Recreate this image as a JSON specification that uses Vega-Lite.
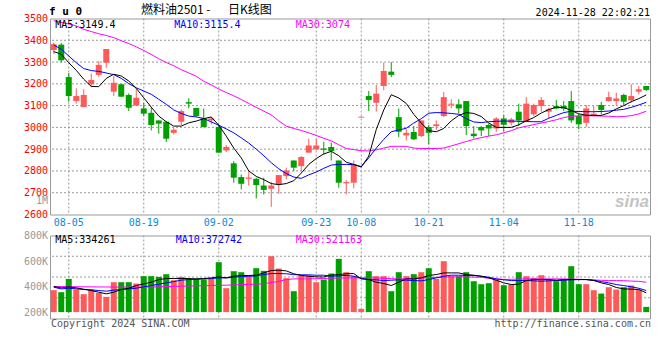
{
"$schema": "https://vega.github.io/schema/vega-lite/v6.json",
"padding": {"left": 0, "top": 3.5, "right": 5, "bottom": 5},
"background": "#ffffff",
"spacing": 21,
"bounds": "flush",
"config": {
  "view": {"stroke": "#999999", "strokeWidth": 1},
  "axis": {"domain": false, "ticks": false, "grid": false, "labelFont": "DejaVu Sans Mono", "labelFontSize": 10, "labelOverlap": false},
  "text": {"font": "DejaVu Sans Mono", "fontSize": 10},
  "line": {"strokeWidth": 1}
},
"datasets": {"k": [
{"date":"2024-08-01","open":3355,"high":3389,"low":3337,"close":3382,"ma5":3348,"ma10":3378,"ma30":3490,"vol":371700,"vma5":400300,"vma10":395000,"vma30":400000},
{"date":"2024-08-02","open":3380,"high":3388,"low":3297,"close":3308,"ma5":3336,"ma10":3359,"ma30":3482,"vol":356000,"vma5":390000,"vma10":382000,"vma30":400000},
{"date":"2024-08-05","open":3231,"high":3250,"low":3118,"close":3144,"ma5":3297,"ma10":3328,"ma30":3475,"vol":460400,"vma5":398000,"vma10":387000,"vma30":399000},
{"date":"2024-08-06","open":3121,"high":3179,"low":3109,"close":3144,"ma5":3262,"ma10":3297,"ma30":3466,"vol":377000,"vma5":390000,"vma10":382000,"vma30":399000},
{"date":"2024-08-07","open":3093,"high":3175,"low":3093,"close":3149,"ma5":3221,"ma10":3270,"ma30":3450,"vol":340400,"vma5":379500,"vma10":377000,"vma30":398000},
{"date":"2024-08-08","open":3198,"high":3247,"low":3185,"close":3218,"ma5":3188,"ma10":3261,"ma30":3440,"vol":377000,"vma5":369000,"vma10":374000,"vma30":398000},
{"date":"2024-08-09","open":3241,"high":3305,"low":3233,"close":3287,"ma5":3187,"ma10":3257,"ma30":3430,"vol":351000,"vma5":356000,"vma10":369000,"vma30":397000},
{"date":"2024-08-12","open":3297,"high":3360,"low":3274,"close":3360,"ma5":3225,"ma10":3250,"ma30":3422,"vol":319500,"vma5":343000,"vma10":364000,"vma30":397000},
{"date":"2024-08-13","open":3164,"high":3236,"low":3144,"close":3205,"ma5":3244,"ma10":3242,"ma30":3412,"vol":434300,"vma5":356000,"vma10":372000,"vma30":396000},
{"date":"2024-08-14","open":3198,"high":3201,"low":3139,"close":3141,"ma5":3236,"ma10":3225,"ma30":3398,"vol":434300,"vma5":377000,"vma10":377000,"vma30":396000},
{"date":"2024-08-15","open":3149,"high":3156,"low":3075,"close":3090,"ma5":3213,"ma10":3201,"ma30":3385,"vol":434300,"vma5":387000,"vma10":382000,"vma30":396000},
{"date":"2024-08-16","open":3100,"high":3178,"low":3100,"close":3136,"ma5":3179,"ma10":3182,"ma30":3370,"vol":423900,"vma5":408000,"vma10":387000,"vma30":396000},
{"date":"2024-08-19","open":3087,"high":3113,"low":3052,"close":3063,"ma5":3136,"ma10":3167,"ma30":3353,"vol":481300,"vma5":421000,"vma10":398000,"vma30":396000},
{"date":"2024-08-20","open":3067,"high":3093,"low":2986,"close":3011,"ma5":3093,"ma10":3152,"ma30":3335,"vol":481300,"vma5":434000,"vma10":408000,"vma30":397000},
{"date":"2024-08-21","open":3032,"high":3032,"low":2971,"close":3017,"ma5":3052,"ma10":3129,"ma30":3315,"vol":476000,"vma5":455000,"vma10":419000,"vma30":398000},
{"date":"2024-08-22","open":3026,"high":3026,"low":2933,"close":2948,"ma5":3026,"ma10":3106,"ma30":3298,"vol":497000,"vma5":463000,"vma10":429000,"vma30":400000},
{"date":"2024-08-23","open":2975,"high":2998,"low":2968,"close":2989,"ma5":3006,"ma10":3080,"ma30":3283,"vol":450000,"vma5":463000,"vma10":439000,"vma30":401000},
{"date":"2024-08-26","open":3026,"high":3083,"low":3011,"close":3075,"ma5":3006,"ma10":3064,"ma30":3265,"vol":476000,"vma5":463000,"vma10":450000,"vma30":403000},
{"date":"2024-08-27","open":3116,"high":3133,"low":3087,"close":3109,"ma5":3021,"ma10":3052,"ma30":3250,"vol":460400,"vma5":463000,"vma10":455000,"vma30":404000},
{"date":"2024-08-28","open":3089,"high":3089,"low":3048,"close":3052,"ma5":3029,"ma10":3048,"ma30":3235,"vol":460400,"vma5":460000,"vma10":458000,"vma30":406000},
{"date":"2024-08-29","open":3041,"high":3087,"low":3000,"close":3002,"ma5":3040,"ma10":3041,"ma30":3212,"vol":455200,"vma5":463000,"vma10":460000,"vma30":407000},
{"date":"2024-08-30","open":3032,"high":3047,"low":3014,"close":3041,"ma5":3048,"ma10":3025,"ma30":3195,"vol":460400,"vma5":468000,"vma10":463000,"vma30":409000},
{"date":"2024-09-02","open":3002,"high":3011,"low":2884,"close":2884,"ma5":3010,"ma10":3010,"ma30":3176,"vol":590900,"vma5":476000,"vma10":468000,"vma30":410000},
{"date":"2024-09-03","open":2894,"high":2919,"low":2887,"close":2910,"ma5":2960,"ma10":2993,"ma30":3160,"vol":387300,"vma5":468000,"vma10":468000,"vma30":411000},
{"date":"2024-09-04","open":2835,"high":2845,"low":2746,"close":2769,"ma5":2905,"ma10":2975,"ma30":3145,"vol":520400,"vma5":481000,"vma10":473000,"vma30":413000},
{"date":"2024-09-05","open":2772,"high":2784,"low":2715,"close":2741,"ma5":2860,"ma10":2952,"ma30":3128,"vol":512600,"vma5":487000,"vma10":479000,"vma30":415000},
{"date":"2024-09-06","open":2764,"high":2799,"low":2733,"close":2770,"ma5":2800,"ma10":2928,"ma30":3110,"vol":481300,"vma5":487000,"vma10":481000,"vma30":417000},
{"date":"2024-09-09","open":2764,"high":2769,"low":2674,"close":2735,"ma5":2775,"ma10":2900,"ma30":3092,"vol":543900,"vma5":489000,"vma10":484000,"vma30":419000},
{"date":"2024-09-10","open":2733,"high":2769,"low":2692,"close":2713,"ma5":2760,"ma10":2870,"ma30":3075,"vol":523000,"vma5":507000,"vma10":494000,"vma30":422000},
{"date":"2024-09-11","open":2718,"high":2750,"low":2635,"close":2733,"ma5":2742,"ma10":2838,"ma30":3057,"vol":637900,"vma5":526000,"vma10":502000,"vma30":432000},
{"date":"2024-09-12","open":2738,"high":2781,"low":2695,"close":2781,"ma5":2737,"ma10":2810,"ma30":3030,"vol":541300,"vma5":528000,"vma10":502000,"vma30":440000},
{"date":"2024-09-13","open":2776,"high":2815,"low":2761,"close":2802,"ma5":2742,"ma10":2788,"ma30":3006,"vol":465600,"vma5":523000,"vma10":500000,"vma30":455000},
{"date":"2024-09-18","open":2848,"high":2848,"low":2799,"close":2815,"ma5":2755,"ma10":2772,"ma30":2995,"vol":363800,"vma5":500000,"vma10":494000,"vma30":460000},
{"date":"2024-09-19","open":2822,"high":2868,"low":2799,"close":2864,"ma5":2790,"ma10":2766,"ma30":2986,"vol":486500,"vma5":487000,"vma10":492000,"vma30":460000},
{"date":"2024-09-20","open":2884,"high":2948,"low":2884,"close":2917,"ma5":2830,"ma10":2782,"ma30":2975,"vol":486500,"vma5":481000,"vma10":492000,"vma30":460000},
{"date":"2024-09-23","open":2899,"high":2948,"low":2896,"close":2917,"ma5":2857,"ma10":2795,"ma30":2963,"vol":434300,"vma5":476000,"vma10":489000,"vma30":462000},
{"date":"2024-09-24","open":2903,"high":2934,"low":2876,"close":2897,"ma5":2878,"ma10":2812,"ma30":2950,"vol":455200,"vma5":475000,"vma10":489000,"vma30":463000},
{"date":"2024-09-25","open":2910,"high":2930,"low":2848,"close":2891,"ma5":2890,"ma10":2827,"ma30":2938,"vol":502100,"vma5":490000,"vma10":481000,"vma30":466000},
{"date":"2024-09-26","open":2848,"high":2848,"low":2723,"close":2746,"ma5":2870,"ma10":2830,"ma30":2920,"vol":617000,"vma5":494000,"vma10":484000,"vma30":467000},
{"date":"2024-09-27","open":2743,"high":2758,"low":2692,"close":2749,"ma5":2840,"ma10":2830,"ma30":2903,"vol":512600,"vma5":500000,"vma10":487000,"vma30":467000},
{"date":"2024-09-30","open":2746,"high":2848,"low":2720,"close":2830,"ma5":2830,"ma10":2829,"ma30":2898,"vol":481300,"vma5":502000,"vma10":481000,"vma30":468000},
{"date":"2024-10-08","open":3045,"high":3049,"low":3045,"close":3049,"ma5":2818,"ma10":2820,"ma30":2893,"vol":225500,"vma5":460000,"vma10":466000,"vma30":468000},
{"date":"2024-10-09","open":3144,"high":3167,"low":3075,"close":3126,"ma5":2868,"ma10":2860,"ma30":2892,"vol":520400,"vma5":455000,"vma10":455000,"vma30":468000},
{"date":"2024-10-10","open":3113,"high":3195,"low":3072,"close":3155,"ma5":2990,"ma10":2905,"ma30":2897,"vol":481300,"vma5":434000,"vma10":453000,"vma30":467000},
{"date":"2024-10-11","open":3190,"high":3297,"low":3170,"close":3259,"ma5":3080,"ma10":2945,"ma30":2905,"vol":481300,"vma5":424000,"vma10":447000,"vma30":465000},
{"date":"2024-10-14","open":3256,"high":3300,"low":3231,"close":3241,"ma5":3150,"ma10":2980,"ma30":2913,"vol":363800,"vma5":408000,"vma10":450000,"vma30":462000},
{"date":"2024-10-15","open":3047,"high":3087,"low":2956,"close":2980,"ma5":3135,"ma10":2988,"ma30":2913,"vol":512600,"vma5":434000,"vma10":453000,"vma30":460000},
{"date":"2024-10-16","open":2963,"high":2991,"low":2940,"close":2975,"ma5":3110,"ma10":2996,"ma30":2913,"vol":481300,"vma5":460000,"vma10":450000,"vma30":462000},
{"date":"2024-10-17","open":2979,"high":3006,"low":2942,"close":2945,"ma5":3060,"ma10":3020,"ma30":2905,"vol":497000,"vma5":460000,"vma10":447000,"vma30":465000},
{"date":"2024-10-18","open":2960,"high":3032,"low":2956,"close":3032,"ma5":3020,"ma10":3040,"ma30":2903,"vol":512600,"vma5":468000,"vma10":445000,"vma30":468000},
{"date":"2024-10-21","open":3002,"high":3011,"low":2922,"close":2975,"ma5":2985,"ma10":3065,"ma30":2903,"vol":543900,"vma5":487000,"vma10":455000,"vma30":470000},
{"date":"2024-10-22","open":3006,"high":3032,"low":2988,"close":3014,"ma5":2980,"ma10":3068,"ma30":2903,"vol":460400,"vma5":494000,"vma10":468000,"vma30":472000},
{"date":"2024-10-23","open":3052,"high":3162,"low":3047,"close":3139,"ma5":2995,"ma10":3067,"ma30":2905,"vol":598700,"vma5":507000,"vma10":481000,"vma30":474000},
{"date":"2024-10-24","open":3104,"high":3129,"low":3087,"close":3109,"ma5":3030,"ma10":3064,"ma30":2915,"vol":481300,"vma5":507000,"vma10":489000,"vma30":476000},
{"date":"2024-10-25","open":3106,"high":3129,"low":3063,"close":3087,"ma5":3055,"ma10":3060,"ma30":2925,"vol":481300,"vma5":507000,"vma10":489000,"vma30":476000},
{"date":"2024-10-28","open":3121,"high":3121,"low":2965,"close":3006,"ma5":3068,"ma10":3040,"ma30":2935,"vol":512600,"vma5":494000,"vma10":487000,"vma30":475000},
{"date":"2024-10-29","open":2971,"high":3006,"low":2949,"close":2960,"ma5":3064,"ma10":3025,"ma30":2945,"vol":442100,"vma5":489000,"vma10":487000,"vma30":474000},
{"date":"2024-10-30","open":3002,"high":3006,"low":2960,"close":2986,"ma5":3050,"ma10":3022,"ma30":2953,"vol":418600,"vma5":481000,"vma10":481000,"vma30":473000},
{"date":"2024-10-31","open":3011,"high":3017,"low":2960,"close":2995,"ma5":3020,"ma10":3026,"ma30":2960,"vol":426500,"vma5":468000,"vma10":473000,"vma30":465000},
{"date":"2024-11-01","open":2995,"high":3047,"low":2980,"close":3041,"ma5":3000,"ma10":3028,"ma30":2966,"vol":455200,"vma5":450000,"vma10":460000,"vma30":460000},
{"date":"2024-11-04","open":3041,"high":3058,"low":2982,"close":3012,"ma5":3000,"ma10":3029,"ma30":2975,"vol":410800,"vma5":429000,"vma10":453000,"vma30":456000},
{"date":"2024-11-05","open":3021,"high":3044,"low":3009,"close":3037,"ma5":3000,"ma10":3029,"ma30":2985,"vol":416000,"vma5":416000,"vma10":447000,"vma30":457000},
{"date":"2024-11-06","open":3072,"high":3109,"low":3006,"close":3032,"ma5":3012,"ma10":3028,"ma30":2998,"vol":512600,"vma5":419000,"vma10":447000,"vma30":459000},
{"date":"2024-11-07","open":3029,"high":3139,"low":3026,"close":3109,"ma5":3030,"ma10":3027,"ma30":3005,"vol":481300,"vma5":447000,"vma10":447000,"vma30":460000},
{"date":"2024-11-08","open":3060,"high":3109,"low":3052,"close":3103,"ma5":3045,"ma10":3026,"ma30":3013,"vol":468200,"vma5":455000,"vma10":445000,"vma30":460000},
{"date":"2024-11-11","open":3098,"high":3139,"low":3072,"close":3126,"ma5":3066,"ma10":3026,"ma30":3020,"vol":489100,"vma5":455000,"vma10":442000,"vma30":460000},
{"date":"2024-11-12","open":3072,"high":3090,"low":3041,"close":3083,"ma5":3082,"ma10":3042,"ma30":3027,"vol":455200,"vma5":455000,"vma10":445000,"vma30":460000},
{"date":"2024-11-13","open":3098,"high":3126,"low":3083,"close":3087,"ma5":3092,"ma10":3055,"ma30":3035,"vol":442100,"vma5":450000,"vma10":447000,"vma30":460000},
{"date":"2024-11-14","open":3098,"high":3121,"low":3075,"close":3086,"ma5":3091,"ma10":3068,"ma30":3045,"vol":455200,"vma5":455000,"vma10":450000,"vma30":460000},
{"date":"2024-11-15","open":3121,"high":3167,"low":3021,"close":3032,"ma5":3078,"ma10":3074,"ma30":3051,"vol":559500,"vma5":455000,"vma10":453000,"vma30":459000},
{"date":"2024-11-18","open":3052,"high":3063,"low":2991,"close":3014,"ma5":3062,"ma10":3073,"ma30":3053,"vol":418600,"vma5":455000,"vma10":455000,"vma30":457000},
{"date":"2024-11-19","open":3021,"high":3103,"low":3003,"close":3087,"ma5":3056,"ma10":3072,"ma30":3054,"vol":418600,"vma5":455000,"vma10":455000,"vma30":455000},
{"date":"2024-11-20","open":3057,"high":3098,"low":3052,"close":3063,"ma5":3055,"ma10":3072,"ma30":3053,"vol":371700,"vma5":447000,"vma10":450000,"vma30":452000},
{"date":"2024-11-21","open":3103,"high":3118,"low":3060,"close":3080,"ma5":3055,"ma10":3073,"ma30":3052,"vol":345500,"vma5":429000,"vma10":439000,"vma30":449000},
{"date":"2024-11-22","open":3121,"high":3164,"low":3118,"close":3139,"ma5":3066,"ma10":3075,"ma30":3051,"vol":395100,"vma5":416000,"vma10":429000,"vma30":447000},
{"date":"2024-11-25","open":3121,"high":3159,"low":3103,"close":3133,"ma5":3085,"ma10":3079,"ma30":3049,"vol":377000,"vma5":393000,"vma10":416000,"vma30":447000},
{"date":"2024-11-26","open":3149,"high":3155,"low":3103,"close":3118,"ma5":3100,"ma10":3083,"ma30":3050,"vol":395100,"vma5":382000,"vma10":408000,"vma30":446000},
{"date":"2024-11-27","open":3124,"high":3198,"low":3113,"close":3144,"ma5":3118,"ma10":3092,"ma30":3054,"vol":408200,"vma5":380000,"vma10":398000,"vma30":443000},
{"date":"2024-11-28","open":3164,"high":3190,"low":3152,"close":3175,"ma5":3132,"ma10":3103,"ma30":3062,"vol":377000,"vma5":377000,"vma10":387000,"vma30":441000},
{"date":"2024-11-29","open":3190,"high":3190,"low":3167,"close":3172,"ma5":3149,"ma10":3115,"ma30":3074,"vol":241200,"vma5":351000,"vma10":369000,"vma30":434000}
]},
"data": {"name": "k"},
"vconcat": [
{
  "width": 600,
  "height": 196,
  "layer": [
    {"mark": {"type": "rule", "color": "#999999", "strokeDash": [2, 2], "strokeWidth": 1},
     "encoding": {
       "x": {"field": "date", "type": "ordinal", "sort": null, "scale": {"paddingInner": 0, "paddingOuter": 0}, "axis": null},
       "strokeOpacity": {"condition": {"test": "indexof(['2024-08-05','2024-08-19','2024-09-02','2024-09-23','2024-10-08','2024-10-21','2024-11-04','2024-11-18'], datum.date) >= 0", "value": 1}, "value": 0}}},
    {"data": {"values": [{}]}, "mark": {"type": "rule", "color": "#999999", "strokeDash": [2, 2], "strokeWidth": 1}, "encoding": {"y": {"datum": 2700, "axis": null}}},
    {"data": {"values": [{}]}, "mark": {"type": "rule", "color": "#999999", "strokeDash": [2, 2], "strokeWidth": 1}, "encoding": {"y": {"datum": 2800, "axis": null}}},
    {"data": {"values": [{}]}, "mark": {"type": "rule", "color": "#999999", "strokeDash": [2, 2], "strokeWidth": 1}, "encoding": {"y": {"datum": 2900, "axis": null}}},
    {"data": {"values": [{}]}, "mark": {"type": "rule", "color": "#999999", "strokeDash": [2, 2], "strokeWidth": 1}, "encoding": {"y": {"datum": 3000, "axis": null}}},
    {"data": {"values": [{}]}, "mark": {"type": "rule", "color": "#999999", "strokeDash": [2, 2], "strokeWidth": 1}, "encoding": {"y": {"datum": 3100, "axis": null}}},
    {"data": {"values": [{}]}, "mark": {"type": "rule", "color": "#999999", "strokeDash": [2, 2], "strokeWidth": 1}, "encoding": {"y": {"datum": 3200, "axis": null}}},
    {"data": {"values": [{}]}, "mark": {"type": "rule", "color": "#999999", "strokeDash": [2, 2], "strokeWidth": 1}, "encoding": {"y": {"datum": 3300, "axis": null}}},
    {"data": {"values": [{}]}, "mark": {"type": "rule", "color": "#999999", "strokeDash": [2, 2], "strokeWidth": 1}, "encoding": {"y": {"datum": 3400, "axis": null}}},
    {"mark": {"type": "rule", "strokeWidth": 1},
     "encoding": {
       "x": {"field": "date", "type": "ordinal", "sort": null, "scale": {"paddingInner": 0, "paddingOuter": 0},
         "axis": {"title": null, "values": ["2024-08-05","2024-08-19","2024-09-02","2024-09-23","2024-10-08","2024-10-21","2024-11-04","2024-11-18"], "labelExpr": "slice(datum.value, 5)", "labelColor": "#0a8ad8", "labelPadding": 3, "labelAngle": 0, "labelOverlap": false, "bandPosition": 0.5, "grid": false}},
       "y": {"field": "low", "type": "quantitative", "scale": {"domain": [2600, 3500], "nice": false, "zero": false},
         "axis": {"title": null, "values": [2600,2700,2800,2900,3000,3100,3200,3300,3400,3500], "format": "d", "labelColor": "#ff0000", "labelPadding": 2.5, "labelOverlap": false, "minExtent": 49, "maxExtent": 49, "grid": false}},
       "y2": {"field": "high"},
       "color": {"condition": {"test": "datum.close >= datum.open", "value": "#ff5a5a"}, "value": "#00a000"}}},
    {"mark": {"type": "bar", "size": 6},
     "encoding": {
       "x": {"field": "date", "type": "ordinal", "sort": null, "axis": null},
       "y": {"field": "open", "type": "quantitative", "axis": null},
       "y2": {"field": "close"},
       "color": {"condition": {"test": "datum.close >= datum.open", "value": "#ff5a5a"}, "value": "#00a000"}}},
    {"mark": {"type": "line", "color": "#ff00ff", "strokeWidth": 1}, "encoding": {"x": {"field": "date", "type": "ordinal", "sort": null, "axis": null}, "y": {"field": "ma30", "type": "quantitative", "axis": null}}},
    {"mark": {"type": "line", "color": "#0000ff", "strokeWidth": 1}, "encoding": {"x": {"field": "date", "type": "ordinal", "sort": null, "axis": null}, "y": {"field": "ma10", "type": "quantitative", "axis": null}}},
    {"mark": {"type": "line", "color": "#000000", "strokeWidth": 1}, "encoding": {"x": {"field": "date", "type": "ordinal", "sort": null, "axis": null}, "y": {"field": "ma5", "type": "quantitative", "axis": null}}},
    {"data": {"values": [{}]}, "mark": {"type": "text", "align": "left", "baseline": "middle", "dx": 1.5, "color": "#000000"},
     "encoding": {"x": {"datum": "2024-08-01", "type": "ordinal", "axis": null}, "y": {"datum": 3470, "axis": null}, "text": {"value": "MA5:3149.4"}}},
    {"data": {"values": [{}]}, "mark": {"type": "text", "align": "left", "baseline": "middle", "dx": 0.5, "color": "#0000ff"},
     "encoding": {"x": {"datum": "2024-08-23", "type": "ordinal", "axis": null}, "y": {"datum": 3470, "axis": null}, "text": {"value": "MA10:3115.4"}}},
    {"data": {"values": [{}]}, "mark": {"type": "text", "align": "left", "baseline": "middle", "dx": 2, "color": "#ff00ff"},
     "encoding": {"x": {"datum": "2024-09-18", "type": "ordinal", "axis": null}, "y": {"datum": 3470, "axis": null}, "text": {"value": "MA30:3074"}}},
    {"data": {"values": [{}]}, "mark": {"type": "text", "align": "left", "baseline": "middle", "dx": -4.75, "color": "#000000", "font": "DejaVu Sans Mono", "fontWeight": "bold", "fontSize": 11},
     "encoding": {"x": {"datum": "2024-08-01", "type": "ordinal", "axis": null}, "y": {"datum": 3529, "axis": null}, "text": {"value": "f u 0"}}},
    {"data": {"values": [{}]}, "mark": {"type": "text", "align": "left", "baseline": "middle", "dx": -2.75, "color": "#000000", "font": "Noto Sans CJK SC", "fontSize": 12},
     "encoding": {"x": {"datum": "2024-08-19", "type": "ordinal", "axis": null}, "y": {"datum": 3537, "axis": null}, "text": {"value": "燃料油2501 -"}}},
    {"data": {"values": [{}]}, "mark": {"type": "text", "align": "left", "baseline": "middle", "dx": -5.75, "color": "#000000", "font": "Noto Sans CJK SC", "fontSize": 12},
     "encoding": {"x": {"datum": "2024-09-04", "type": "ordinal", "axis": null}, "y": {"datum": 3537, "axis": null}, "text": {"value": "日K线图"}}},
    {"data": {"values": [{}]}, "mark": {"type": "text", "align": "right", "baseline": "middle", "dx": 3.75, "color": "#000000"},
     "encoding": {"x": {"datum": "2024-11-29", "type": "ordinal", "axis": null}, "y": {"datum": 3527, "axis": null}, "text": {"value": "2024-11-28 22:02:21"}}},
    {"data": {"values": [{}]}, "mark": {"type": "text", "align": "right", "baseline": "middle", "dx": -5.75, "dy": 1, "color": "#999999"},
     "encoding": {"x": {"datum": "2024-08-01", "type": "ordinal", "axis": null}, "y": {"datum": 2666, "axis": null}, "text": {"value": "1M"}}},
    {"data": {"values": [{}]}, "mark": {"type": "text", "align": "right", "baseline": "middle", "dx": 2.75, "color": "#c4c4c4", "font": "Liberation Sans", "fontSize": 17, "fontWeight": "bold", "fontStyle": "italic"},
     "encoding": {"x": {"datum": "2024-11-29", "type": "ordinal", "axis": null}, "y": {"datum": 2658, "axis": null}, "text": {"value": "sina"}}}
  ],
  "resolve": {"axis": {"x": "independent", "y": "independent"}}
},
{
  "width": 600,
  "height": 83,
  "layer": [
    {"mark": {"type": "rule", "color": "#999999", "strokeDash": [2, 2], "strokeWidth": 1},
     "encoding": {
       "x": {"field": "date", "type": "ordinal", "sort": null, "scale": {"paddingInner": 0, "paddingOuter": 0}, "axis": null},
       "strokeOpacity": {"condition": {"test": "indexof(['2024-08-05','2024-08-19','2024-09-02','2024-09-23','2024-10-08','2024-10-21','2024-11-04','2024-11-18'], datum.date) >= 0", "value": 1}, "value": 0}}},
    {"data": {"values": [{}]}, "mark": {"type": "rule", "color": "#999999", "strokeDash": [2, 2], "strokeWidth": 1}, "encoding": {"y": {"datum": 312500, "axis": null}}},
    {"data": {"values": [{}]}, "mark": {"type": "rule", "color": "#999999", "strokeDash": [2, 2], "strokeWidth": 1}, "encoding": {"y": {"datum": 475000, "axis": null}}},
    {"data": {"values": [{}]}, "mark": {"type": "rule", "color": "#999999", "strokeDash": [2, 2], "strokeWidth": 1}, "encoding": {"y": {"datum": 637500, "axis": null}}},
    {"mark": {"type": "bar", "size": 6},
     "encoding": {
       "x": {"field": "date", "type": "ordinal", "sort": null, "axis": null},
       "y": {"field": "vol", "type": "quantitative", "scale": {"domain": [150000, 800000], "nice": false, "zero": false},
         "axis": {"title": null, "orient": "left", "values": [200000, 400000, 600000, 800000], "labelExpr": "upper(format(datum.value, '~s'))", "labelColor": "#999999", "labelPadding": 2.5, "labelOverlap": false, "grid": false, "minExtent": 49, "maxExtent": 49}},
       "y2": {"datum": 200000},
       "color": {"condition": {"test": "datum.close >= datum.open", "value": "#ff5a5a"}, "value": "#00a000"}}},
    {"mark": {"type": "line", "color": "#ff00ff", "strokeWidth": 1}, "encoding": {"x": {"field": "date", "type": "ordinal", "sort": null, "axis": null}, "y": {"field": "vma30", "type": "quantitative", "axis": null}}},
    {"mark": {"type": "line", "color": "#0000ff", "strokeWidth": 1}, "encoding": {"x": {"field": "date", "type": "ordinal", "sort": null, "axis": null}, "y": {"field": "vma10", "type": "quantitative", "axis": null}}},
    {"mark": {"type": "line", "color": "#000000", "strokeWidth": 1}, "encoding": {"x": {"field": "date", "type": "ordinal", "sort": null, "axis": null}, "y": {"field": "vma5", "type": "quantitative", "axis": null}}},
    {"data": {"values": [{}]}, "mark": {"type": "text", "align": "left", "baseline": "middle", "dx": 1.5, "color": "#000000"},
     "encoding": {"x": {"datum": "2024-08-01", "type": "ordinal", "axis": null}, "y": {"datum": 764800, "axis": null}, "text": {"value": "MA5:334261"}}},
    {"data": {"values": [{}]}, "mark": {"type": "text", "align": "left", "baseline": "middle", "dx": 2, "color": "#0000ff"},
     "encoding": {"x": {"datum": "2024-08-23", "type": "ordinal", "axis": null}, "y": {"datum": 764800, "axis": null}, "text": {"value": "MA10:372742"}}},
    {"data": {"values": [{}]}, "mark": {"type": "text", "align": "left", "baseline": "middle", "dx": 2, "color": "#ff00ff"},
     "encoding": {"x": {"datum": "2024-09-18", "type": "ordinal", "axis": null}, "y": {"datum": 764800, "axis": null}, "text": {"value": "MA30:521163"}}},
    {"data": {"values": [{}]}, "mark": {"type": "text", "align": "left", "baseline": "middle", "dx": -2.75, "color": "#555555"},
     "encoding": {"x": {"datum": "2024-08-01", "type": "ordinal", "axis": null}, "y": {"datum": 107000, "axis": null}, "text": {"value": "Copyright 2024 SINA.COM"}}},
    {"data": {"values": [{}]}, "mark": {"type": "text", "align": "right", "baseline": "middle", "dx": 4.75, "color": "#555555"},
     "encoding": {"x": {"datum": "2024-11-29", "type": "ordinal", "axis": null}, "y": {"datum": 105000, "axis": null}, "text": {"value": "http://finance.sina.com.cn"}}}
  ],
  "resolve": {"axis": {"x": "independent", "y": "independent"}}
}
]
}
